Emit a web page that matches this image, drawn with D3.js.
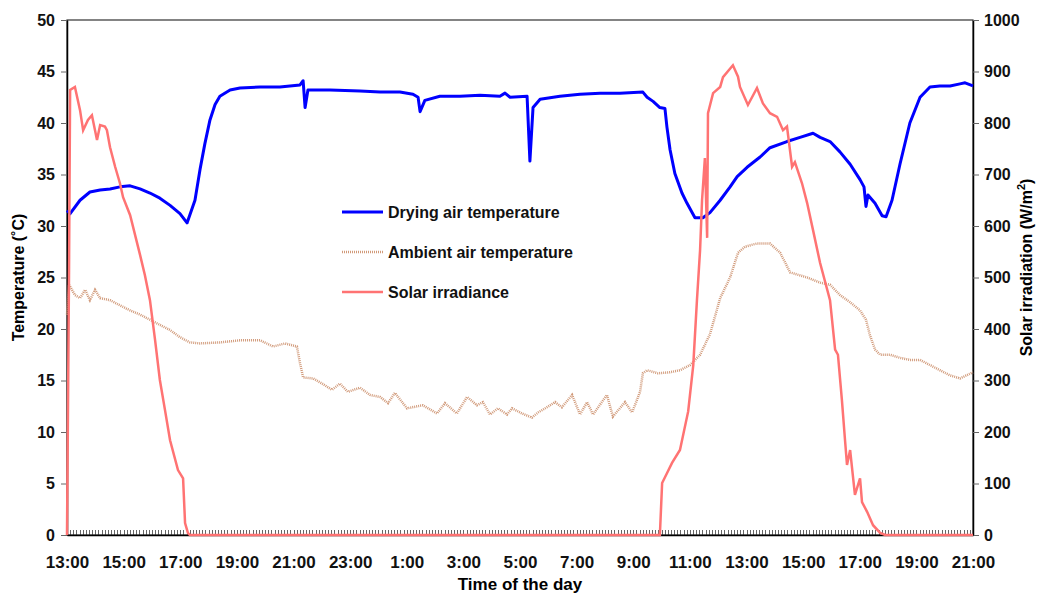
<!DOCTYPE html>
<html>
<head>
<meta charset="utf-8">
<script src="https://cdn.jsdelivr.net/npm/d3@7"></script>
<style>
  body { margin: 0; background: #fff; }
  text { font-family: "Liberation Sans", Arial, sans-serif; font-weight: bold; }
</style>
</head>
<body>
<div id="chart"></div>
<script>
// hours elapsed since 13:00 on day one
const dryingHours = [0, 0.11, 0.46, 0.81, 1.17, 1.52, 1.87, 2.23, 2.58, 2.93, 3.28, 3.64, 3.99, 4.24, 4.52, 4.7, 4.87, 5.05, 5.23, 5.4, 5.76, 6.11, 6.82, 7.52, 8.23, 8.34, 8.41, 8.51, 9.29, 10.35, 11.06, 11.76, 12.22, 12.4, 12.47, 12.64, 13.17, 13.88, 14.59, 15.29, 15.47, 15.65, 16.25, 16.35, 16.46, 16.71, 17.41, 18.12, 18.83, 19.53, 20.34, 20.49, 20.7, 20.94, 21.12, 21.19, 21.3, 21.47, 21.72, 21.9, 22.18, 22.46, 22.71, 23.07, 23.42, 23.67, 24.02, 24.48, 24.83, 25.43, 25.89, 26.35, 26.6, 26.95, 27.3, 27.66, 28.01, 28.15, 28.22, 28.29, 28.54, 28.79, 28.93, 29.14, 29.42, 29.77, 30.13, 30.48, 30.83, 31.19, 31.54, 31.72, 32];
const dryingTemp = [31.5, 31.2, 32.5, 33.3, 33.5, 33.6, 33.8, 33.9, 33.6, 33.2, 32.7, 32.0, 31.2, 30.3, 32.5, 35.5, 38.0, 40.3, 41.8, 42.6, 43.2, 43.4, 43.5, 43.5, 43.7, 44.1, 41.5, 43.2, 43.2, 43.1, 43.0, 43.0, 42.8, 42.5, 41.1, 42.2, 42.6, 42.6, 42.7, 42.6, 42.9, 42.5, 42.6, 36.3, 41.5, 42.3, 42.6, 42.8, 42.9, 42.9, 43.0, 42.5, 42.1, 41.5, 41.4, 39.6, 37.4, 35.1, 33.2, 32.2, 30.8, 30.8, 31.3, 32.5, 33.8, 34.8, 35.7, 36.7, 37.6, 38.2, 38.6, 39.0, 38.6, 38.2, 37.2, 36.0, 34.5, 33.8, 31.9, 33.0, 32.2, 31.0, 30.9, 32.5, 36.0, 40.0, 42.5, 43.5, 43.6, 43.6, 43.8, 43.9, 43.6];

const ambientHours = [0, 0.07, 0.28, 0.46, 0.64, 0.81, 0.99, 1.17, 1.52, 1.87, 2.23, 2.58, 2.93, 3.28, 3.64, 3.99, 4.34, 4.7, 5.4, 6.11, 6.82, 7.28, 7.7, 8.12, 8.23, 8.34, 8.69, 9.01, 9.36, 9.64, 9.92, 10.35, 10.7, 11.06, 11.34, 11.58, 12.01, 12.57, 13.07, 13.35, 13.77, 14.13, 14.48, 14.69, 14.94, 15.22, 15.54, 15.72, 16.07, 16.42, 16.64, 16.95, 17.24, 17.48, 17.84, 18.12, 18.37, 18.58, 19.07, 19.28, 19.71, 19.96, 20.24, 20.34, 20.49, 20.87, 21.3, 21.65, 22.01, 22.36, 22.71, 23.07, 23.42, 23.7, 23.95, 24.37, 24.83, 25.19, 25.54, 26.14, 26.6, 26.95, 27.3, 27.66, 28.01, 28.22, 28.36, 28.54, 28.72, 29.07, 29.42, 29.77, 30.13, 30.48, 30.83, 31.19, 31.54, 32];
const ambientTemp = [21.4, 24.3, 23.3, 23.0, 23.8, 22.8, 23.8, 23.0, 22.8, 22.3, 21.8, 21.4, 20.9, 20.4, 19.9, 19.2, 18.7, 18.6, 18.7, 18.9, 18.9, 18.3, 18.6, 18.3, 16.7, 15.3, 15.2, 14.7, 14.1, 14.7, 13.9, 14.3, 13.6, 13.4, 12.8, 13.8, 12.3, 12.6, 11.8, 12.8, 11.8, 13.4, 12.6, 12.9, 11.7, 12.3, 11.7, 12.3, 11.8, 11.4, 11.9, 12.4, 12.9, 12.4, 13.6, 11.7, 12.9, 11.7, 13.6, 11.5, 12.9, 11.9, 13.9, 15.7, 16.0, 15.7, 15.8, 16.0, 16.5, 17.5, 19.5, 23.0, 25.0, 27.4, 28.0, 28.3, 28.3, 27.4, 25.5, 25.0, 24.5, 24.3, 23.3, 22.6, 21.8, 20.9, 19.4, 18.0, 17.5, 17.5, 17.2, 17.0, 17.0, 16.5, 16.0, 15.5, 15.2, 15.8];

const solarHours = [0, 0.02, 0.07, 0.11, 0.28, 0.46, 0.57, 0.74, 0.88, 1.06, 1.17, 1.34, 1.41, 1.52, 1.7, 1.87, 1.98, 2.23, 2.58, 2.75, 2.93, 3.11, 3.28, 3.46, 3.64, 3.92, 4.1, 4.17, 4.27, 4.34, 20.94, 21.02, 21.19, 21.37, 21.65, 21.94, 22.12, 22.25, 22.36, 22.43, 22.53, 22.61, 22.64, 22.82, 23.07, 23.17, 23.52, 23.7, 23.77, 24.05, 24.37, 24.58, 24.83, 25.08, 25.29, 25.43, 25.61, 25.71, 25.96, 26.14, 26.35, 26.6, 26.95, 27.13, 27.23, 27.37, 27.48, 27.55, 27.66, 27.83, 28.01, 28.08, 28.26, 28.47, 28.72, 28.9, 32];
const solarIrr = [0, 140, 500, 864, 870, 825, 786, 806, 815, 767, 796, 793, 786, 753, 715, 683, 656, 621, 544, 505, 456, 379, 301, 243, 184, 126, 110, 23, 4, 0, 0, 101, 120, 140, 165, 240, 330, 456, 553, 650, 732, 577, 819, 858, 870, 889, 912, 890, 870, 835, 868, 838, 819, 812, 786, 793, 715, 724, 683, 645, 592, 528, 456, 360, 350, 262, 184, 136, 165, 78, 110, 64, 45, 19, 4, 0, 0];

const timeLabels = ["13:00", "15:00", "17:00", "19:00", "21:00", "23:00", "1:00", "3:00", "5:00", "7:00", "9:00", "11:00", "13:00", "15:00", "17:00", "19:00", "21:00"];
const tempTicks = [0, 5, 10, 15, 20, 25, 30, 35, 40, 45, 50];
const irrTicks = [0, 100, 200, 300, 400, 500, 600, 700, 800, 900, 1000];

const width = 1037;
const height = 594;
const margin = { top: 20, right: 64, bottom: 59, left: 67 };

const svg = d3
  .select("#chart")
  .append("svg")
  .attr("width", width)
  .attr("height", height);

const x = d3
  .scaleLinear()
  .domain([0, 32])
  .range([margin.left, width - margin.right]);
const y = d3
  .scaleLinear()
  .domain([0, 50])
  .range([height - margin.bottom, margin.top]);
const y2 = d3
  .scaleLinear()
  .domain([0, 1000])
  .range([height - margin.bottom, margin.top]);

// dense minor ticks along the bottom, pointing up
svg
  .append("g")
  .attr("transform", `translate(0,${height - margin.bottom})`)
  .call(d3.axisBottom(x).tickValues(d3.range(1 / 9, 32, 1 / 9)).tickSize(-5).tickFormat(""))
  .call((g) => g.select(".domain").remove())
  .call((g) =>
    g.selectAll("line").attr("stroke", "#666").attr("stroke-width", 1).attr("shape-rendering", "crispEdges")
  );

// frame
svg
  .append("rect")
  .attr("x", margin.left)
  .attr("y", margin.top)
  .attr("width", width - margin.left - margin.right)
  .attr("height", height - margin.top - margin.bottom)
  .attr("fill", "none")
  .attr("stroke", "#333")
  .attr("stroke-width", 1.2);

const leftAxis = svg
  .append("g")
  .attr("transform", `translate(${margin.left},0)`)
  .call(d3.axisLeft(y).tickValues(tempTicks).tickSize(6).tickPadding(6).tickSizeOuter(0));
leftAxis.select(".domain").attr("stroke", "#000").attr("stroke-width", 1.5);
leftAxis.selectAll("line").attr("stroke", "#666");
leftAxis.selectAll("text").attr("font-size", 16).attr("fill", "#111");

const rightAxis = svg
  .append("g")
  .attr("transform", `translate(${width - margin.right},0)`)
  .call(
    d3
      .axisRight(y2)
      .tickValues(irrTicks)
      .tickFormat(d3.format("d"))
      .tickSize(6)
      .tickPadding(5)
      .tickSizeOuter(0)
  );
rightAxis.select(".domain").attr("stroke", "#000").attr("stroke-width", 1.5);
rightAxis.selectAll("line").attr("stroke", "#666");
rightAxis.selectAll("text").attr("font-size", 16).attr("fill", "#111");

const bottomAxis = svg
  .append("g")
  .attr("transform", `translate(0,${height - margin.bottom})`)
  .call(
    d3
      .axisBottom(x)
      .tickValues(d3.range(0, 33, 2))
      .tickSize(0)
      .tickPadding(21)
      .tickFormat((d, i) => timeLabels[i])
  );
bottomAxis.select(".domain").attr("stroke", "#000").attr("stroke-width", 1.5);
bottomAxis.selectAll("text").attr("font-size", 17).attr("fill", "#111");

// axis titles
svg
  .append("text")
  .attr("x", (margin.left + width - margin.right) / 2)
  .attr("y", 590)
  .attr("text-anchor", "middle")
  .attr("font-size", 17)
  .text("Time of the day");
svg
  .append("text")
  .attr("transform", `translate(24,${(margin.top + height - margin.bottom) / 2}) rotate(-90)`)
  .attr("text-anchor", "middle")
  .attr("font-size", 16)
  .text("Temperature (˚C)");
const rt = svg
  .append("text")
  .attr("transform", `translate(1032,${(margin.top + height - margin.bottom) / 2 - 10}) rotate(-90)`)
  .attr("text-anchor", "middle")
  .attr("font-size", 16)
  .text("Solar irradiation (W/m");
rt.append("tspan").attr("font-size", 11).attr("dy", -7).text("2");
rt.append("tspan").attr("dy", 7).text(")");

// series
const lineT = (hours) =>
  d3
    .line()
    .x((d, i) => x(hours[i]))
    .y((d) => y(d));
const lineI = d3
  .line()
  .x((d, i) => x(solarHours[i]))
  .y((d) => y2(d));

const plot = svg.append("g");

plot
  .append("path")
  .datum(ambientTemp)
  .attr("fill", "none")
  .attr("stroke", "#d19a7a")
  .attr("stroke-width", 2.5)
  .attr("stroke-dasharray", "1,1")
  .attr("d", lineT(ambientHours));

plot
  .append("path")
  .datum(dryingTemp)
  .attr("fill", "none")
  .attr("stroke", "#0000ff")
  .attr("stroke-width", 3)
  .attr("stroke-linejoin", "round")
  .attr("d", lineT(dryingHours));

plot
  .append("path")
  .datum(solarIrr)
  .attr("fill", "none")
  .attr("stroke", "#ff7373")
  .attr("stroke-width", 2.5)
  .attr("d", lineI);

// legend
const legendItems = [
  { label: "Drying air temperature", color: "#0000ff", width: 3, dash: null },
  { label: "Ambient air temperature", color: "#d19a7a", width: 2.5, dash: "1,1" },
  { label: "Solar irradiance", color: "#ff7373", width: 2.5, dash: null },
];
const legend = svg
  .append("g")
  .selectAll("g")
  .data(legendItems)
  .join("g")
  .attr("transform", (d, i) => `translate(342,${212 + i * 40})`);
legend
  .append("line")
  .attr("x1", 0)
  .attr("x2", 41)
  .attr("stroke", (d) => d.color)
  .attr("stroke-width", (d) => d.width)
  .attr("stroke-dasharray", (d) => d.dash);
legend
  .append("text")
  .attr("x", 46)
  .attr("dy", "0.35em")
  .attr("font-size", 16)
  .attr("fill", "#111")
  .text((d) => d.label);
</script>
</body>
</html>
